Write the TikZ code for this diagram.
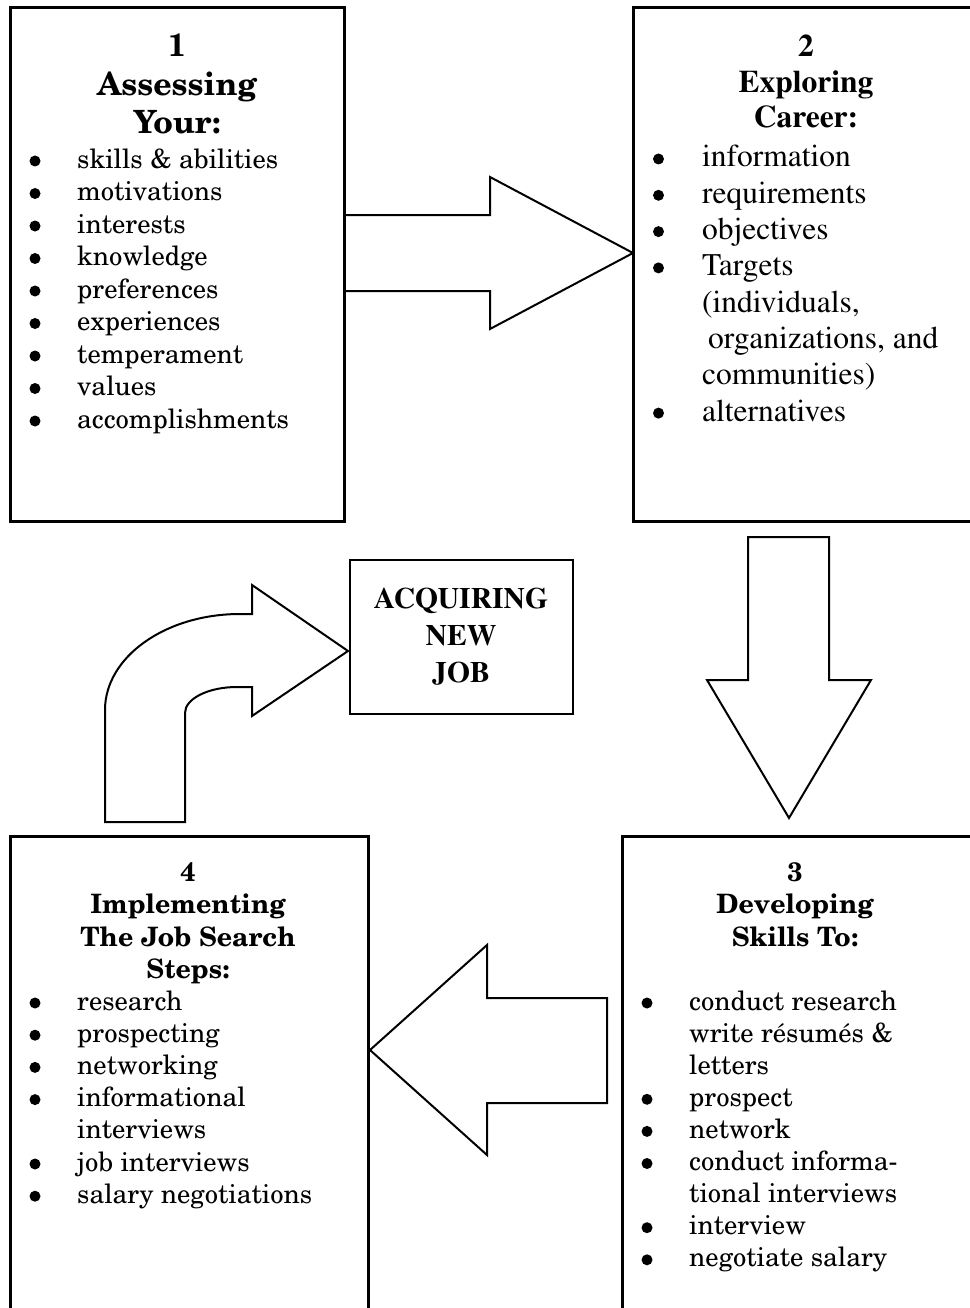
\documentclass[tikz,border=0pt]{standalone}
\usepackage[T1]{fontenc}
\usetikzlibrary{calc}

% Century Schoolbook for the step boxes, Times for box 2 and the goal box
\newcommand\schfont{\fontfamily{pnc}\selectfont}
\newcommand\tmsfont{\fontfamily{ptm}\selectfont}

\tikzset{
  frame/.style={draw, line width=3pt, inner sep=0pt, outer sep=0pt, anchor=north west},
  goalbox/.style={draw, line width=2.5pt, inner sep=0pt, outer sep=0pt, anchor=north west},
  blockarrow/.style={draw, line width=2pt, fill=white, line join=miter},
  txt/.style={inner sep=0pt, anchor=base west},
  headtxt/.style={inner sep=0pt, anchor=base},
  dot/.style={fill=black},
}

\begin{document}
\begin{tikzpicture}[x=1pt, y=-1pt]
\useasboundingbox (0,0) rectangle (969,1308);
\fill[white] (0,0) rectangle (969,1308);

% the four step boxes (2 and 3 run off the right edge, 3 and 4 off the bottom)
\node[frame, minimum width=334pt, minimum height=513pt] (b1) at (10,8) {};
\node[frame, minimum width=357pt, minimum height=513pt] (b2) at (633,8) {};
\node[frame, minimum width=368pt, minimum height=494pt] (b3) at (622,836) {};
\node[frame, minimum width=358pt, minimum height=494pt] (b4) at (10,836) {};
\node[goalbox, minimum width=223pt, minimum height=154pt] (acq) at (350,560) {};

% block arrows between the steps
\draw[blockarrow] ($(b1.north east)+(0,207)$) -- ++(146,0) -- ++(0,-38)
  -- ++(143,76) -- ++(-143,76) -- ++(0,-38) -- ++(-146,0) -- cycle;
\draw[blockarrow] ($(b2.south west)+(115,16)$) -- ++(81,0) -- ++(0,143)
  -- ++(42,0) -- ++(-82,138) -- ++(-82,-138) -- ++(41,0) -- cycle;
\draw[blockarrow] ($(b3.north west)+(-15,162)$) -- ++(0,105) -- ++(-120,0)
  -- ++(0,52) -- ++(-117,-105) -- ++(117,-105) -- ++(0,53) -- cycle;
\draw[blockarrow] ($(b4.north west)+(95,-14)$) -- ++(0,-112)
  arc[start angle=180, end angle=270, x radius=135, y radius=96]
  -- ++(12,0) -- ++(0,-29) -- ++(96,66) -- ++(-96,65) -- ++(0,-29) -- ++(-15,0)
  arc[start angle=270, end angle=180, x radius=52, y radius=26]
  -- ++(0,109) -- cycle;

% redraw the frame edge over the arrow tail
\draw[line width=3pt] (b1.north east) -- (b1.south east);

% box 1
\node[headtxt] (h1) at (177,57) {\schfont\bfseries\fontsize{32}{38.5}\selectfont
  \begin{tabular}[t]{@{}c@{}}1\\Assessing\\Your:\end{tabular}};
\node[txt] (l1) at (77,168) {\schfont\fontsize{26.6}{32.5}\selectfont
  \begin{tabular}[t]{@{}l@{}}
  skills \& abilities\\ motivations\\ interests\\ knowledge\\ preferences\\
  experiences\\ temperament\\ values\\ accomplishments
  \end{tabular}};
\foreach \k in {0,...,8}
  \fill[dot] ($(l1.base west)+(-42,32.5*\k-7)$) circle[radius=5.5pt];

% box 2
\node[headtxt] (h2) at (806,57) {\tmsfont\bfseries\fontsize{31.5}{35.5}\selectfont
  \begin{tabular}[t]{@{}c@{}}2\\Exploring\\Career:\end{tabular}};
\node[txt] (l2) at (702,167) {\tmsfont\fontsize{31.5}{36.3}\selectfont
  \begin{tabular}[t]{@{}l@{}}
  information\\ requirements\\ objectives\\ Targets\\ (individuals,\\
  \hspace*{6pt}organizations, and\\ communities)\\ alternatives
  \end{tabular}};
\foreach \k in {0,1,2,3,7}
  \fill[dot] ($(l2.base west)+(-43.5,36.3*\k-8)$) circle[radius=5.5pt];

% goal box
\node[headtxt] (ht) at (461,608) {\tmsfont\bfseries\fontsize{29.6}{37}\selectfont
  \begin{tabular}[t]{@{}c@{}}ACQUIRING\\NEW\\JOB\end{tabular}};

% box 3
\node[headtxt] (h3) at (795,881) {\schfont\bfseries\fontsize{26.7}{32.5}\selectfont
  \begin{tabular}[t]{@{}c@{}}3\\Developing\\Skills To:\end{tabular}};
\node[txt] (l3) at (689,1010) {\schfont\fontsize{26.6}{32.1}\selectfont
  \begin{tabular}[t]{@{}l@{}}
  conduct research\\ write r\'esum\'es \&\\ letters\\ prospect\\ network\\
  conduct informa-\\ tional interviews\\ interview\\ negotiate salary
  \end{tabular}};
\foreach \k in {0,3,4,5,7,8}
  \fill[dot] ($(l3.base west)+(-42,32.1*\k-7)$) circle[radius=5.5pt];

% box 4
\node[headtxt] (h4) at (188,881) {\schfont\bfseries\fontsize{26.7}{32.5}\selectfont
  \begin{tabular}[t]{@{}c@{}}4\\Implementing\\The Job Search\\Steps:\end{tabular}};
\node[txt] (l4) at (77,1010) {\schfont\fontsize{26.6}{32.2}\selectfont
  \begin{tabular}[t]{@{}l@{}}
  research\\ prospecting\\ networking\\ informational\\ interviews\\
  job interviews\\ salary negotiations
  \end{tabular}};
\foreach \k in {0,1,2,3,5,6}
  \fill[dot] ($(l4.base west)+(-42,32.2*\k-7)$) circle[radius=5.5pt];
\end{tikzpicture}
\end{document}
